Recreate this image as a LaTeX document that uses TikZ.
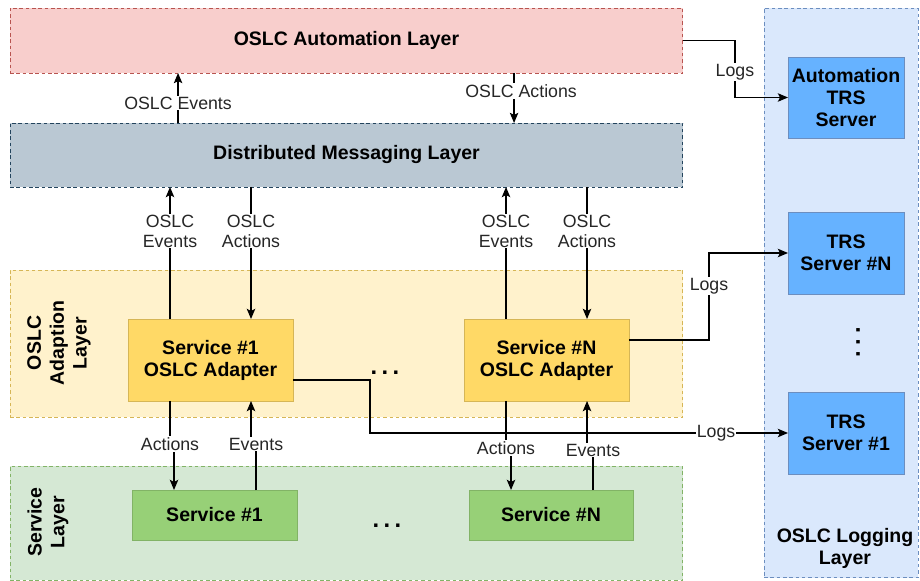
\documentclass[tikz,border=0pt]{standalone}
\usepackage{fontspec}
\setmainfont{Liberation Sans}
\usetikzlibrary{calc}
\usetikzlibrary{arrows.meta}

\definecolor{autofill}{HTML}{F8CECC}
\definecolor{autoline}{HTML}{B85450}
\definecolor{msgfill}{HTML}{BAC8D3}
\definecolor{msgline}{HTML}{23445D}
\definecolor{adpfill}{HTML}{FFF2CC}
\definecolor{adpline}{HTML}{D6B656}
\definecolor{adpbox}{HTML}{FFD966}
\definecolor{svcfill}{HTML}{D5E8D4}
\definecolor{svcline}{HTML}{82B366}
\definecolor{svcbox}{HTML}{97D077}
\definecolor{logfill}{HTML}{DAE8FC}
\definecolor{logline}{HTML}{6C8EBF}
\definecolor{trsbox}{HTML}{66B2FF}

\begin{document}
\begin{tikzpicture}[x=0.02cm, y=-0.02cm,
 layer/.style={draw, dash pattern=on 2pt off 1.6pt, line width=0.55pt, inner sep=0, outer sep=0, font=\fontsize{11.1}{12.8}\selectfont\bfseries},
 lname/.style={inner sep=0, align=center, font=\fontsize{11.1}{13}\selectfont\bfseries},
 box/.style={draw, line width=0.55pt, inner sep=0, outer sep=0, align=center, font=\fontsize{11.1}{12.5}\selectfont\bfseries},
 lbl/.style={fill=white, inner sep=0.6pt, align=center, text=black!85, font=\fontsize{10.1}{11.4}\selectfont},
 flow/.style={line width=0.7pt, -{Stealth[length=5.8pt,width=4.8pt,inset=1.2pt]}},
 dots/.style={inner sep=0, font=\fontsize{13.5}{13}\selectfont\bfseries}]
\useasboundingbox (0,0) rectangle (920,581);
\node[layer, fill=autofill, draw=autoline, minimum width=13.46cm, minimum height=1.3cm] (auto) at (346.5,40.5) {OSLC Automation Layer};
\node[layer, fill=msgfill, draw=msgline, minimum width=13.46cm, minimum height=1.28cm] (msg) at (346.5,155) {Distributed Messaging Layer};
\node[layer, fill=adpfill, draw=adpline, minimum width=13.46cm, minimum height=2.94cm] (adapt) at (346.5,343.5) {};
\node[layer, fill=svcfill, draw=svcline, minimum width=13.46cm, minimum height=2.28cm] (svc) at (346.5,523) {};
\node[layer, fill=logfill, draw=logline, minimum width=3.08cm, minimum height=11.4cm] (logs) at (841,293) {};
\node[lname, rotate=90] (adaptname) at (59,343) {OSLC\\Adaption\\Layer};
\node[lname, rotate=90] (svcname) at (48,522) {Service\\Layer};
\node[lname] (logsname) at (845,548.5) {OSLC Logging\\Layer};

\node[box, fill=adpbox, draw=adpline, minimum width=3.3cm, minimum height=1.64cm] (ad1) at (210.5,360) {Service \#1\\OSLC Adapter};
\node[box, fill=adpbox, draw=adpline, minimum width=3.3cm, minimum height=1.64cm] (adN) at (546.5,360) {Service \#N\\OSLC Adapter};
\node[box, fill=svcbox, draw=svcline, minimum width=3.3cm, minimum height=1cm] (sv1) at (214.5,515) {Service \#1};
\node[box, fill=svcbox, draw=svcline, minimum width=3.28cm, minimum height=1cm] (svN) at (551,515) {Service \#N};
\node[box, fill=trsbox, draw=logline, minimum width=2.32cm, minimum height=1.62cm] (trsA) at (846,97.5) {Automation\\TRS\\Server};
\node[box, fill=trsbox, draw=logline, minimum width=2.32cm, minimum height=1.64cm] (trsN) at (846,253) {TRS\\Server \#N};
\node[box, fill=trsbox, draw=logline, minimum width=2.32cm, minimum height=1.64cm] (trs1) at (846,433) {TRS\\Server \#1};
\node[dots] (dotsA) at (385,373) {.\kern2.5pt.\kern2.5pt.};
\node[dots] (dotsS) at (387,526) {.\kern2.5pt.\kern2.5pt.};
\node[dots, rotate=90] (dotsT) at (858,342) {.\kern3pt.\kern3pt.};

\coordinate (mev) at ($(msg.north west)+(168,0)$);
\coordinate (mac) at ($(msg.north west)+(504,0)$);
\draw[flow] (mev) -- node[lbl, pos=0.4]{OSLC Events} (mev |- auto.south);
\draw[flow] (mac |- auto.south) -- node[lbl, pos=0.36, xshift=4]{OSLC Actions} (mac);
\foreach \a/\s/\d in {ad1/sv1/0, adN/svN/4} {
 \coordinate (\a-ev) at ($(\a.north west)+(42,0)$);
 \coordinate (\a-ac) at ($(\a.north west)+(123,0)$);
 \coordinate (\s-ac) at ($(\s.north west)+(42,0)$);
 \coordinate (\s-ev) at ($(\s.north west)+(124,0)$);
 \draw[flow] (\a-ev) -- node[lbl, pos=0.667]{OSLC\\Events} (\a-ev |- msg.south);
 \draw[flow] (\a-ac |- msg.south) -- node[lbl, pos=0.333]{OSLC\\Actions} (\a-ac);
 \draw[flow] (\a-ev |- \a.south) -- ++(0,43+\d) node[lbl]{Actions} -| (\s-ac);
 \draw[flow] (\s-ev) -- ++(0,-46+1.5*\d) node[lbl]{Events} -| (\a-ac |- \a.south);
}
\draw[flow] (auto.east) -- ++(52,0) |- node[lbl, pos=0.28]{Logs} (trsA.west);
\draw[flow] ($(adN.east)+(0,-20)$) -- ++(80,0) |- node[lbl, pos=0.31]{Logs} (trsN.west);
\draw[flow] ($(ad1.east)+(0,20)$) -- ++(77,0) |- node[lbl, pos=0.914]{Logs} (trs1.west);
\end{tikzpicture}
\end{document}
